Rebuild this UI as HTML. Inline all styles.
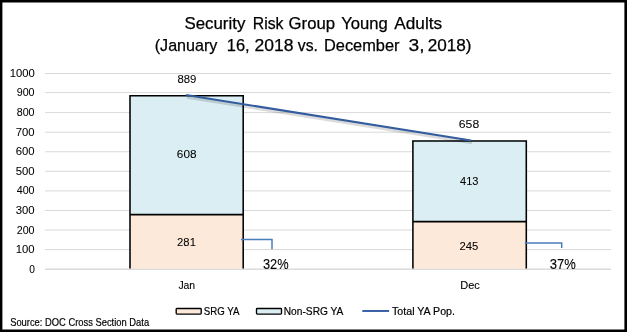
<!DOCTYPE html>
<html><head><meta charset="utf-8"><style>
html,body{margin:0;padding:0;background:#fff;}
#c{position:absolute;left:0;top:0;width:627px;height:332px;overflow:hidden;background:#fff;}
svg{position:absolute;left:0;top:0;will-change:transform;}
text{font-family:"Liberation Sans", sans-serif;}
</style></head><body><div id="c"><svg width="627" height="332" viewBox="0 0 627 332">
<line x1="45" y1="269.20" x2="611" y2="269.20" stroke="#D9D9D9" stroke-width="1"/>
<line x1="45" y1="249.63" x2="611" y2="249.63" stroke="#D9D9D9" stroke-width="1"/>
<line x1="45" y1="230.05" x2="611" y2="230.05" stroke="#D9D9D9" stroke-width="1"/>
<line x1="45" y1="210.48" x2="611" y2="210.48" stroke="#D9D9D9" stroke-width="1"/>
<line x1="45" y1="190.90" x2="611" y2="190.90" stroke="#D9D9D9" stroke-width="1"/>
<line x1="45" y1="171.33" x2="611" y2="171.33" stroke="#D9D9D9" stroke-width="1"/>
<line x1="45" y1="151.76" x2="611" y2="151.76" stroke="#D9D9D9" stroke-width="1"/>
<line x1="45" y1="132.18" x2="611" y2="132.18" stroke="#D9D9D9" stroke-width="1"/>
<line x1="45" y1="112.61" x2="611" y2="112.61" stroke="#D9D9D9" stroke-width="1"/>
<line x1="45" y1="92.60" x2="611" y2="92.60" stroke="#D9D9D9" stroke-width="1"/>
<line x1="45" y1="73.46" x2="611" y2="73.46" stroke="#D9D9D9" stroke-width="1"/>
<rect x="130" y="214.20" width="113.20" height="54.50" fill="#FDE9D9"/>
<rect x="130" y="95.19" width="113.20" height="119.01" fill="#DAEEF3"/>
<path d="M130,268.7 V95.69 H243.2 V268.7 M130,214.60 H243.2" fill="none" stroke="#000" stroke-width="1.55"/>
<rect x="412.9" y="221.24" width="113.40" height="47.46" fill="#FDE9D9"/>
<rect x="412.9" y="140.40" width="113.40" height="80.84" fill="#DAEEF3"/>
<path d="M412.9,268.7 V140.90 H526.3 V268.7 M412.9,221.64 H526.3" fill="none" stroke="#000" stroke-width="1.55"/>
<line x1="45" y1="269.2" x2="611" y2="269.2" stroke="#D9D9D9" stroke-width="1"/>
<line x1="187" y1="97.2" x2="472" y2="142.8" stroke="#000" stroke-opacity="0.14" stroke-width="3"/>
<line x1="186" y1="95.0" x2="471" y2="140.6" stroke="#335C9E" stroke-width="2"/>
<path d="M241,239.4 H272.0 V249.2" fill="none" stroke="#4A7EBB" stroke-width="1.5"/>
<path d="M524.8,243.0 H561.7 V248.0" fill="none" stroke="#4A7EBB" stroke-width="1.5"/>
<rect x="176.2" y="308.5" width="25.0" height="5.6" rx="0.8" fill="#FDE9D9" stroke="#000" stroke-width="1.35"/>
<rect x="256.5" y="308.5" width="25.0" height="5.6" rx="0.8" fill="#DAEEF3" stroke="#000" stroke-width="1.35"/>
<line x1="362.3" y1="311" x2="389.1" y2="311" stroke="#3B64A6" stroke-width="2"/>
<text x="184.47" y="29.30" font-size="16.4" textLength="60.85" lengthAdjust="spacingAndGlyphs" fill="#000" stroke="#000" stroke-width="0.25">Security</text>
<text x="252.74" y="29.30" font-size="16.4" textLength="30.74" lengthAdjust="spacingAndGlyphs" fill="#000" stroke="#000" stroke-width="0.25">Risk</text>
<text x="288.58" y="29.30" font-size="16.4" textLength="46.49" lengthAdjust="spacingAndGlyphs" fill="#000" stroke="#000" stroke-width="0.25">Group</text>
<text x="341.19" y="29.30" font-size="16.4" textLength="46.52" lengthAdjust="spacingAndGlyphs" fill="#000" stroke="#000" stroke-width="0.25">Young</text>
<text x="394.30" y="29.30" font-size="16.4" textLength="47.79" lengthAdjust="spacingAndGlyphs" fill="#000" stroke="#000" stroke-width="0.25">Adults</text>
<text x="154.72" y="51.40" font-size="16.4" textLength="62.67" lengthAdjust="spacingAndGlyphs" fill="#000" stroke="#000" stroke-width="0.25">(January</text>
<text x="226.80" y="51.40" font-size="16.4" textLength="22.91" lengthAdjust="spacingAndGlyphs" fill="#000" stroke="#000" stroke-width="0.25">16,</text>
<text x="254.53" y="51.40" font-size="16.4" textLength="38.97" lengthAdjust="spacingAndGlyphs" fill="#000" stroke="#000" stroke-width="0.25">2018</text>
<text x="297.80" y="51.40" font-size="16.4" textLength="20.11" lengthAdjust="spacingAndGlyphs" fill="#000" stroke="#000" stroke-width="0.25">vs.</text>
<text x="324.00" y="51.40" font-size="16.4" textLength="75.51" lengthAdjust="spacingAndGlyphs" fill="#000" stroke="#000" stroke-width="0.25">December</text>
<text x="408.63" y="51.40" font-size="16.4" textLength="16.03" lengthAdjust="spacingAndGlyphs" fill="#000" stroke="#000" stroke-width="0.25">3,</text>
<text x="427.65" y="51.40" font-size="16.4" textLength="43.91" lengthAdjust="spacingAndGlyphs" fill="#000" stroke="#000" stroke-width="0.25">2018)</text>
<text x="29.30" y="272.65" font-size="11.3" textLength="5.67" lengthAdjust="spacingAndGlyphs" fill="#000" stroke="#000" stroke-width="0.06">0</text>
<text x="15.70" y="253.08" font-size="11.3" textLength="18.86" lengthAdjust="spacingAndGlyphs" fill="#000" stroke="#000" stroke-width="0.06">100</text>
<text x="16.70" y="233.50" font-size="11.3" textLength="17.87" lengthAdjust="spacingAndGlyphs" fill="#000" stroke="#000" stroke-width="0.06">200</text>
<text x="15.70" y="213.93" font-size="11.3" textLength="18.86" lengthAdjust="spacingAndGlyphs" fill="#000" stroke="#000" stroke-width="0.06">300</text>
<text x="16.70" y="194.35" font-size="11.3" textLength="17.87" lengthAdjust="spacingAndGlyphs" fill="#000" stroke="#000" stroke-width="0.06">400</text>
<text x="15.70" y="174.78" font-size="11.3" textLength="18.86" lengthAdjust="spacingAndGlyphs" fill="#000" stroke="#000" stroke-width="0.06">500</text>
<text x="15.70" y="155.21" font-size="11.3" textLength="18.86" lengthAdjust="spacingAndGlyphs" fill="#000" stroke="#000" stroke-width="0.06">600</text>
<text x="15.70" y="135.63" font-size="11.3" textLength="18.86" lengthAdjust="spacingAndGlyphs" fill="#000" stroke="#000" stroke-width="0.06">700</text>
<text x="16.70" y="116.06" font-size="11.3" textLength="17.87" lengthAdjust="spacingAndGlyphs" fill="#000" stroke="#000" stroke-width="0.06">800</text>
<text x="16.70" y="96.05" font-size="11.3" textLength="17.87" lengthAdjust="spacingAndGlyphs" fill="#000" stroke="#000" stroke-width="0.06">900</text>
<text x="9.80" y="76.91" font-size="11.3" textLength="25.04" lengthAdjust="spacingAndGlyphs" fill="#000" stroke="#000" stroke-width="0.06">1000</text>
<text x="177.50" y="82.90" font-size="11.4" textLength="18.92" lengthAdjust="spacingAndGlyphs" fill="#000" stroke="#000" stroke-width="0.06">889</text>
<text x="176.87" y="158.40" font-size="11.4" textLength="19.65" lengthAdjust="spacingAndGlyphs" fill="#000" stroke="#000" stroke-width="0.06">608</text>
<text x="177.11" y="245.90" font-size="11.4" textLength="18.80" lengthAdjust="spacingAndGlyphs" fill="#000" stroke="#000" stroke-width="0.06">281</text>
<text x="458.83" y="128.10" font-size="11.4" textLength="20.39" lengthAdjust="spacingAndGlyphs" fill="#000" stroke="#000" stroke-width="0.06">658</text>
<text x="460.10" y="184.90" font-size="11.4" textLength="18.42" lengthAdjust="spacingAndGlyphs" fill="#000" stroke="#000" stroke-width="0.06">413</text>
<text x="459.51" y="249.90" font-size="11.4" textLength="18.91" lengthAdjust="spacingAndGlyphs" fill="#000" stroke="#000" stroke-width="0.06">245</text>
<text x="262.99" y="268.90" font-size="14.0" textLength="25.64" lengthAdjust="spacingAndGlyphs" fill="#000" stroke="#000" stroke-width="0.1">32%</text>
<text x="549.77" y="268.80" font-size="14.0" textLength="26.06" lengthAdjust="spacingAndGlyphs" fill="#000" stroke="#000" stroke-width="0.1">37%</text>
<text x="178.40" y="288.80" font-size="11.2" textLength="16.77" lengthAdjust="spacingAndGlyphs" fill="#000" stroke="#000" stroke-width="0.12">Jan</text>
<text x="460.22" y="288.60" font-size="11.2" textLength="19.57" lengthAdjust="spacingAndGlyphs" fill="#000" stroke="#000" stroke-width="0.12">Dec</text>
<text x="203.81" y="314.70" font-size="10.9" textLength="35.63" lengthAdjust="spacingAndGlyphs" fill="#000" stroke="#000" stroke-width="0.2">SRG YA</text>
<text x="283.77" y="314.70" font-size="10.9" textLength="59.62" lengthAdjust="spacingAndGlyphs" fill="#000" stroke="#000" stroke-width="0.2">Non-SRG YA</text>
<text x="392.00" y="314.70" font-size="10.9" textLength="62.98" lengthAdjust="spacingAndGlyphs" fill="#000" stroke="#000" stroke-width="0.2">Total YA Pop.</text>
<text x="10.15" y="325.80" font-size="11.0" textLength="138.95" lengthAdjust="spacingAndGlyphs" fill="#000" stroke="#000" stroke-width="0.2">Source: DOC Cross Section Data</text>
<path d="M0,0 H627 V332 H0 Z M2.4,2.4 V329.4 H624.4 V2.4 Z" fill="#000" fill-rule="evenodd"/>
</svg></div></body></html>
